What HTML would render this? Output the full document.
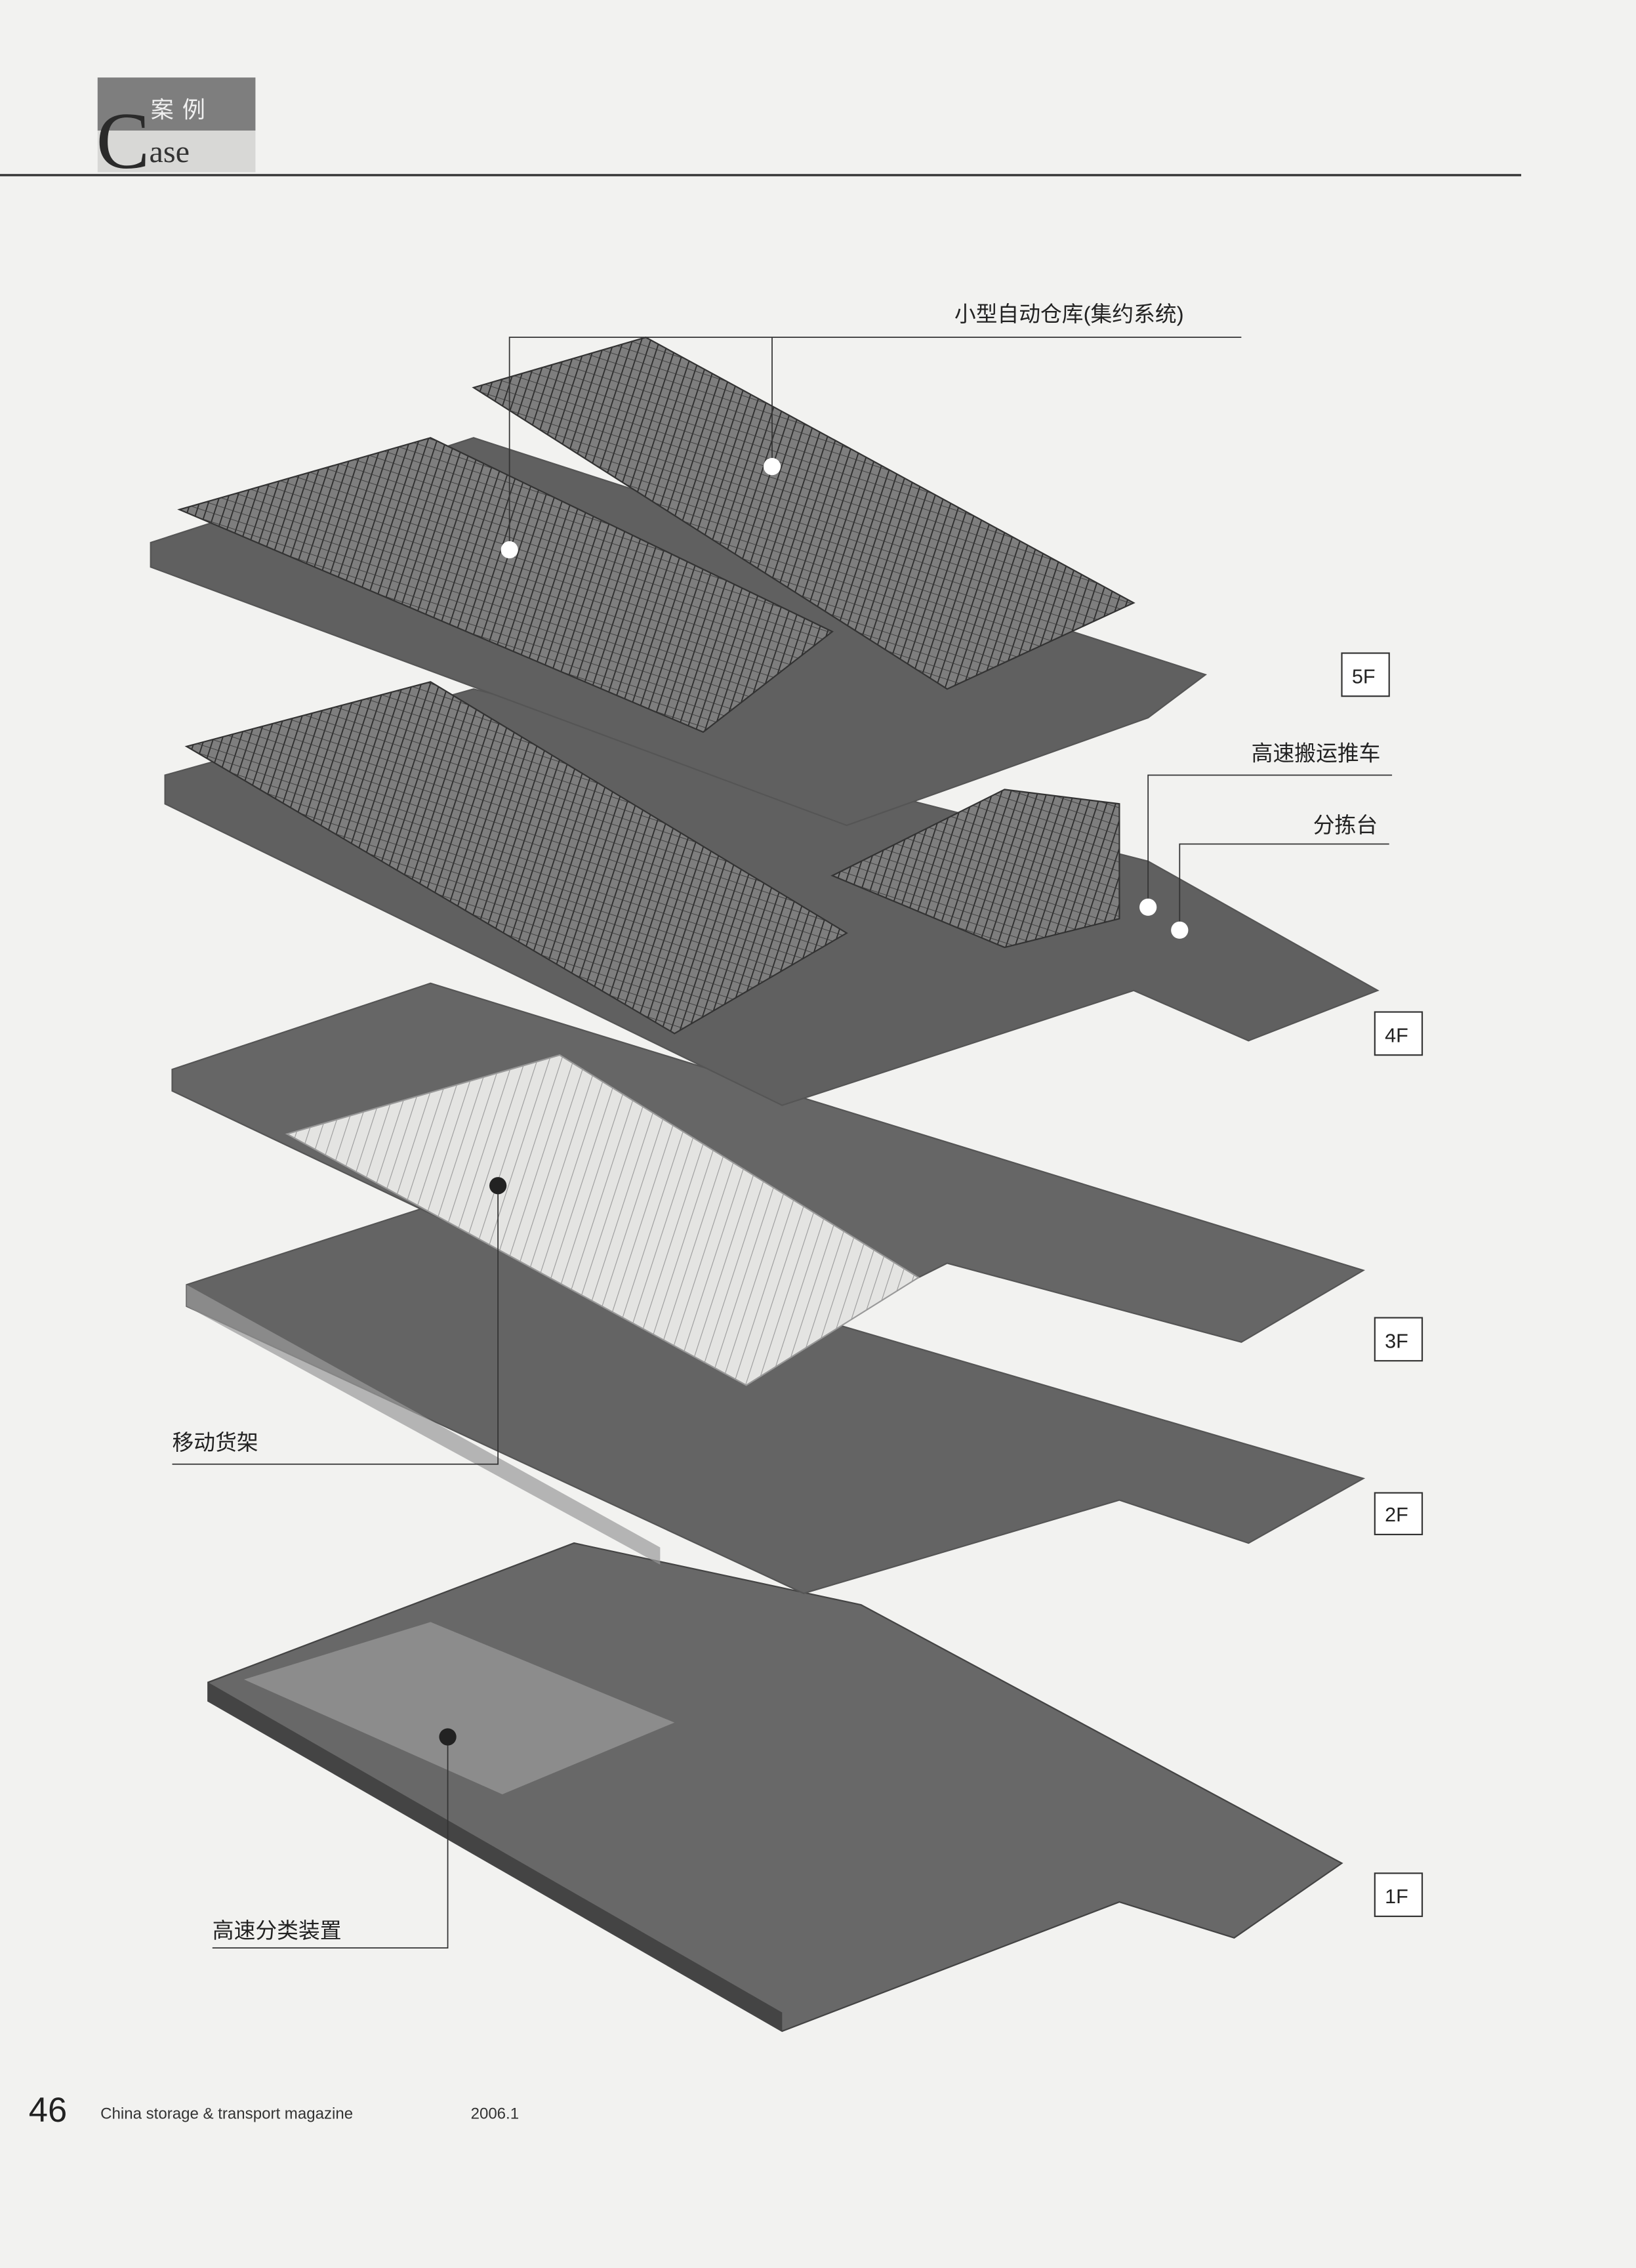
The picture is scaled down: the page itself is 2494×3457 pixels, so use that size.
<!DOCTYPE html>
<html><head><meta charset="utf-8"><style>
html,body{margin:0;padding:0;background:#f2f2f0;}
svg{display:block}
</style></head><body>
<svg width="2494" height="3457" viewBox="0 0 1140 1580" preserveAspectRatio="none" xmlns="http://www.w3.org/2000/svg" font-family="Liberation Sans, Noto Sans CJK SC, sans-serif">
<defs>
<pattern id="rack" width="6" height="6" patternUnits="userSpaceOnUse" patternTransform="rotate(18)">
<rect width="6" height="6" fill="#7e7e7e"/>
<line x1="0" y1="0" x2="0" y2="6" stroke="#2a2a2a" stroke-width="1.6"/>
<line x1="0" y1="0" x2="6" y2="0" stroke="#3a3a3a" stroke-width="0.8"/>
</pattern>
<pattern id="shelf" width="8" height="8" patternUnits="userSpaceOnUse" patternTransform="rotate(18)">
<rect width="8" height="8" fill="#e4e4e2"/>
<line x1="0" y1="0" x2="0" y2="8" stroke="#9a9a9a" stroke-width="1"/>
</pattern>
</defs>
<rect width="1140" height="1580" fill="#f2f2f0"/>
<!-- header -->
<rect x="68" y="54" width="110" height="37" fill="#7e7e7e"/>
<rect x="68" y="91" width="110" height="29" fill="#d8d8d6"/>
<text x="67" y="117" font-family="Liberation Serif, serif" font-size="56" fill="#2a2a2a">C</text>
<text x="105" y="82" font-size="16" fill="#f0f0f0" letter-spacing="6">案例</text>
<text x="104" y="113" font-family="Liberation Serif, serif" font-size="22" fill="#333">ase</text>
<line x1="0" y1="122" x2="1060" y2="122" stroke="#333" stroke-width="1.5"/>

<!-- 1F -->
<polygon points="145,1172 400,1075 600,1118 935,1298 860,1350 780,1325 545,1415 145,1185" fill="#686868" stroke="#444" stroke-width="1"/>
<polygon points="145,1172 545,1402 545,1415 145,1185" fill="#444"/>
<polygon points="170,1170 300,1130 470,1200 350,1250" fill="#8c8c8c"/>
<!-- 2F -->
<polygon points="130,895 300,840 950,1030 870,1075 780,1045 560,1110 130,910" fill="#646464" stroke="#555"/>
<polygon points="130,895 460,1078 460,1090 130,910" fill="#9a9a9a" opacity=".7"/>
<!-- 3F -->
<polygon points="120,745 300,685 950,885 865,935 660,880 520,950 120,760" fill="#666" stroke="#555"/>
<polygon points="200,790 390,735 640,890 520,965" fill="url(#shelf)" stroke="#999"/>
<!-- 4F -->
<polygon points="115,540 330,480 800,600 960,690 870,725 790,690 545,770 115,560" fill="#606060" stroke="#555"/>
<polygon points="130,520 300,475 590,650 470,720" fill="url(#rack)" stroke="#333"/>
<polygon points="580,610 700,550 780,560 780,640 700,660" fill="url(#rack)" stroke="#333"/>
<!-- 5F -->
<polygon points="105,378 330,305 840,470 800,500 590,575 105,395" fill="#606060" stroke="#555"/>
<polygon points="125,355 300,305 580,440 490,510" fill="url(#rack)" stroke="#333"/>
<polygon points="330,270 450,235 790,420 660,480" fill="url(#rack)" stroke="#333"/>

<!-- leader lines & dots -->
<polyline points="355,383 355,235 865,235" fill="none" stroke="#333" stroke-width="0.8"/>
<line x1="538" y1="235" x2="538" y2="325" stroke="#333" stroke-width="0.8"/>
<circle cx="538" cy="325" r="6" fill="#fff"/>
<circle cx="355" cy="383" r="6" fill="#fff"/>
<text x="665" y="224" font-size="15" fill="#222">小型自动仓库(集约系统)</text>
<polyline points="800,632 800,540 970,540" fill="none" stroke="#333" stroke-width="0.8"/>
<polyline points="822,648 822,588 968,588" fill="none" stroke="#333" stroke-width="0.8"/>
<circle cx="800" cy="632" r="6" fill="#fff"/>
<circle cx="822" cy="648" r="6" fill="#fff"/>
<text x="872" y="530" font-size="15" fill="#222">高速搬运推车</text>
<text x="915" y="580" font-size="15" fill="#222">分拣台</text>
<polyline points="347,826 347,1020 120,1020" fill="none" stroke="#333" stroke-width="0.8"/>
<circle cx="347" cy="826" r="6" fill="#222"/>
<text x="120" y="1010" font-size="15" fill="#222">移动货架</text>
<polyline points="312,1210 312,1357 148,1357" fill="none" stroke="#333" stroke-width="0.8"/>
<circle cx="312" cy="1210" r="6" fill="#222"/>
<text x="148" y="1350" font-size="15" fill="#222">高速分类装置</text>

<!-- floor labels -->
<g font-size="14" fill="#222" stroke="none">
<rect x="935" y="455" width="33" height="30" fill="#fff" stroke="#333"/><text x="942" y="476">5F</text>
<rect x="958" y="705" width="33" height="30" fill="#fff" stroke="#333"/><text x="965" y="726">4F</text>
<rect x="958" y="918" width="33" height="30" fill="#fff" stroke="#333"/><text x="965" y="939">3F</text>
<rect x="958" y="1040" width="33" height="29" fill="#fff" stroke="#333"/><text x="965" y="1060">2F</text>
<rect x="958" y="1305" width="33" height="30" fill="#fff" stroke="#333"/><text x="965" y="1326">1F</text>
</g>
<!-- footer -->
<text x="20" y="1478" font-size="24" fill="#222">46</text>
<text x="70" y="1476" font-size="11" fill="#333">China storage &amp; transport magazine</text>
<text x="328" y="1476" font-size="11" fill="#333">2006.1</text>
</svg>
</body></html>
